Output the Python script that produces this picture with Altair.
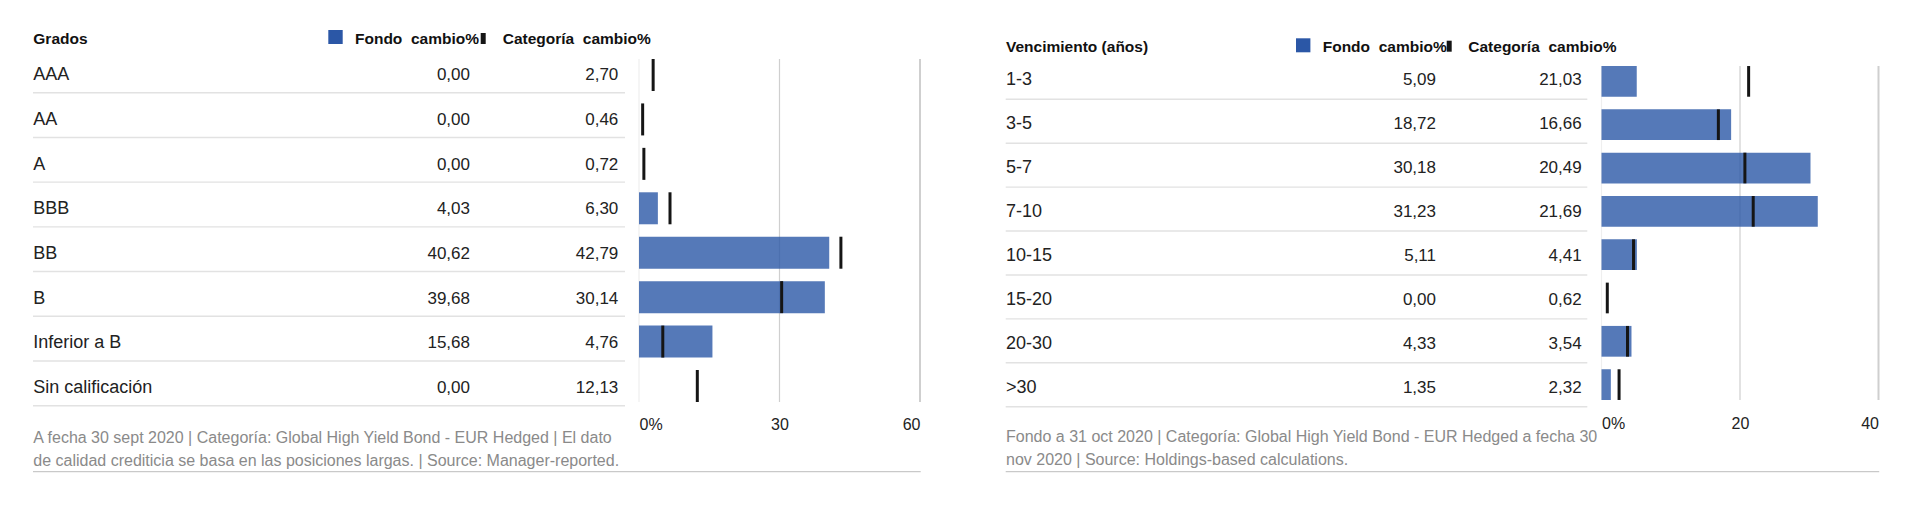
import altair as alt
import pandas as pd

# ---------------- data ----------------
GRADOS = ["AAA", "AA", "A", "BBB", "BB", "B", "Inferior a B", "Sin calificación"]
FONDO_GRADOS = [0.00, 0.00, 0.00, 4.03, 40.62, 39.68, 15.68, 0.00]
CAT_GRADOS = [2.70, 0.46, 0.72, 6.30, 42.79, 30.14, 4.76, 12.13]

VENC = ["1-3", "3-5", "5-7", "7-10", "10-15", "15-20", "20-30", ">30"]
FONDO_VENC = [5.09, 18.72, 30.18, 31.23, 5.11, 0.00, 4.33, 1.35]
CAT_VENC = [21.03, 16.66, 20.49, 21.69, 4.41, 0.62, 3.54, 2.32]

TITLE_L = "Grados"
TITLE_R = "Vencimiento (años)"
LEGEND = ["Fondo\u00a0\u00a0cambio%", "Categoría\u00a0\u00a0cambio%"]

TICKS_L = [0, 30, 60]
TICKS_R = [0, 20, 40]

FOOT_L = ["A fecha 30 sept 2020 | Categoría: Global High Yield Bond - EUR Hedged | El dato",
          "de calidad crediticia se basa en las posiciones largas. | Source: Manager-reported."]
FOOT_R = ["Fondo a 31 oct 2020 | Categoría: Global High Yield Bond - EUR Hedged a fecha 30",
          "nov 2020 | Source: Holdings-based calculations."]

# ---------------- style ----------------
FONT = "Liberation Sans, Arial, sans-serif"
TXT = "#222222"
GRAY = "#8a8a8a"
BLUE = "#2b57a6"
BLACK = "#151515"
SEP = "#e2e2e2"


def fmt(v):
    return f"{v:.2f}".replace(".", ",")


def panel(rows, fondo, cat, title, foot, ticks, g):
    df = pd.DataFrame({
        "cat": rows,
        "fondo": fondo,
        "categoria": cat,
        "f_lbl": [fmt(v) for v in fondo],
        "c_lbl": [fmt(v) for v in cat],
    })
    base = alt.Chart(df)
    one = pd.DataFrame({"k": [0]})

    tscale = alt.Scale(domain=rows, range=g["table"], paddingInner=0, paddingOuter=0)
    ytext = alt.Y("cat:N", scale=tscale, axis=None, sort=None, bandPosition=0.5)
    ysep = alt.Y("cat:N", scale=tscale, axis=None, sort=None, bandPosition=1)
    bscale = alt.Scale(domain=rows, range=g["bars"], paddingInner=g["pi"], paddingOuter=0)
    ybar = alt.Y("cat:N", scale=bscale, axis=None, sort=None)

    xs = alt.Scale(domain=[ticks[0], ticks[-1]], range=g["xr"], nice=False, zero=True)
    xaxis = alt.Axis(values=ticks, labelExpr="datum.value == 0 ? '0%' : datum.label",
                     labelFlush=True, grid=False, domain=False, ticks=False, tickSize=0,
                     labelPadding=g["lp"], labelFont=FONT, labelFontSize=16,
                     labelColor=TXT, title=None, orient="bottom", labelOverlap=False)

    txt = dict(font=FONT, color=TXT, baseline="alphabetic", dy=g["dy"])
    labels = base.mark_text(align="left", fontSize=18, **txt).encode(
        x=alt.value(g["xl"]), y=ytext, text="cat:N")
    fvals = base.mark_text(align="right", fontSize=17, **txt).encode(
        x=alt.value(g["xf"]), y=ytext, text="f_lbl:N")
    cvals = base.mark_text(align="right", fontSize=17, **txt).encode(
        x=alt.value(g["xc"]), y=ytext, text="c_lbl:N")
    seps = base.mark_rule(color=SEP, strokeWidth=1.4).encode(
        x=alt.value(g["xl"] - 0.3), x2=alt.value(g["xs1"]), y=ysep)

    gdf = pd.DataFrame({"v": ticks})
    grid = alt.Chart(gdf).mark_rule().encode(
        x=alt.X("v:Q", scale=xs, axis=xaxis),
        y=alt.value(g["bars"][0]), y2=alt.value(g["bars"][1]),
        color=alt.condition("datum.v == 0", alt.value("#efefef"), alt.value("#cfcfcf")),
        strokeWidth=alt.condition(f"datum.v == {ticks[-1]}", alt.value(2), alt.value(1.2)),
    )
    bars = base.mark_bar(color=BLUE, opacity=0.8).encode(
        x=alt.X("fondo:Q", scale=xs, axis=xaxis), y=ybar)
    tks = base.mark_tick(color=BLACK, thickness=3, size=g["bh"], xOffset=1.5, opacity=1).encode(
        x=alt.X("categoria:Q", scale=xs, axis=xaxis), y=ybar)

    head = dict(font=FONT, fontSize=15.5, fontWeight="bold", color="#111111",
                baseline="alphabetic", align="left")
    t_title = alt.Chart(one).mark_text(**head).encode(
        x=alt.value(g["xl"]), y=alt.value(g["hy"]), text=alt.value(title))
    sx, sy = g["sq"]
    sq = alt.Chart(one).mark_rect(color=BLUE).encode(
        x=alt.value(sx), x2=alt.value(sx + 14.4), y=alt.value(sy), y2=alt.value(sy + 14))
    leg1 = alt.Chart(one).mark_text(**head).encode(
        x=alt.value(sx + 26.7), y=alt.value(g["hy"]), text=alt.value(LEGEND[0]))
    bx = sx + g["bxo"]
    lbar = alt.Chart(one).mark_rect(color=BLACK).encode(
        x=alt.value(bx), x2=alt.value(bx + 5), y=alt.value(g["hy"] - 11), y2=alt.value(g["hy"]))
    leg2 = alt.Chart(one).mark_text(**head).encode(
        x=alt.value(sx + g["cxo"]), y=alt.value(g["hy"]), text=alt.value(LEGEND[1]))

    footnote = alt.Chart(one).mark_text(font=FONT, fontSize=16, color=GRAY, align="left",
                                        baseline="alphabetic", lineHeight=23).encode(
        x=alt.value(g["xl"]), y=alt.value(g["fy"]), text=alt.value(foot))
    bottom = alt.Chart(one).mark_rule(color="#c9c9c9", strokeWidth=1.3).encode(
        x=alt.value(g["xl"] - 0.3), x2=alt.value(g["xr"][1] + 0.7), y=alt.value(g["by"]))

    return alt.layer(
        grid, bars, tks, seps, labels, fvals, cvals,
        t_title, sq, leg1, lbar, leg2, footnote, bottom
    ).resolve_scale(y="independent").properties(width=g["w"], height=398)


GEO_L = dict(w=940, table=[40, 397.7], bars=[51, 394], pi=0.28, bh=32, dy=9.8,
             xl=25.3, xf=462, xc=610.3, xs1=617, xr=[631, 912], lp=10.5,
             hy=36, sq=(320.3, 22), bxo=152.4, cxo=174.4, fy=434.5, by=463.7)
GEO_R = dict(w=892, table=[47.4, 398.7], bars=[58, 392], pi=0.29, bh=30.7, dy=8,
             xl=8, xf=438, xc=583.7, xs1=589.3, xr=[603.5, 880.5], lp=9.3,
             hy=43.7, sq=(298, 30.3), bxo=150.7, cxo=172.3, fy=433.7, by=463.7)

left = panel(GRADOS, FONDO_GRADOS, CAT_GRADOS, TITLE_L, FOOT_L, TICKS_L, GEO_L)
right = panel(VENC, FONDO_VENC, CAT_VENC, TITLE_R, FOOT_R, TICKS_R, GEO_R)

chart = alt.hconcat(left, right, spacing=50, bounds="flush").properties(
    padding=0, background="white"
).configure_view(stroke=None)

chart.save("out.html", embed_options={"renderer": "svg", "actions": False})
